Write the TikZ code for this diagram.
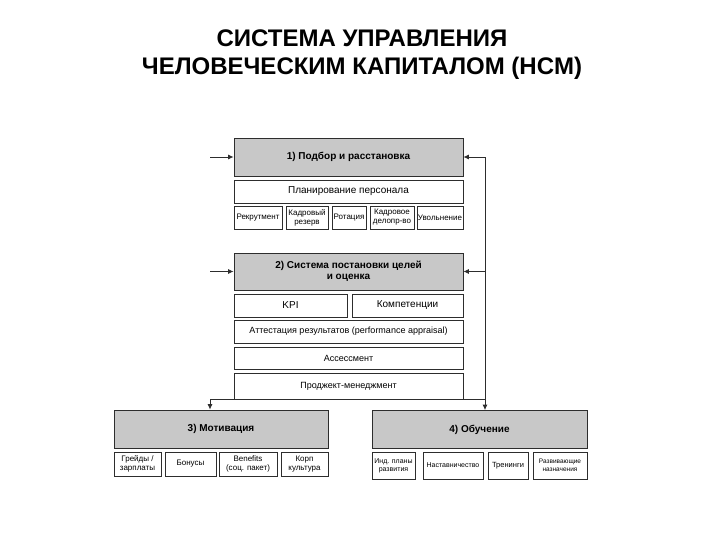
\documentclass[tikz,border=0pt]{standalone}
\usepackage{fontspec}
\setmainfont{Liberation Sans}
\usepackage{tikz}
\usetikzlibrary{
	arrows.meta,
	positioning
}
\definecolor{HeadGray}{RGB}{200, 200, 200}
\definecolor{EdgeGray}{RGB}{45, 45, 45}

\tikzset{
	wh/.style 2 args={minimum width=#1pt, minimum height=#2pt},
	head/.style={draw=EdgeGray, fill=HeadGray, line width=0.8pt, inner sep=0pt, align=center,
		font=\fontsize{10}{11.5}\selectfont\bfseries},
	cell/.style={draw=EdgeGray, fill=white, line width=0.8pt, inner sep=0pt, align=center,
		font=\fontsize{8}{9}\selectfont},
	bigcell/.style={cell, font=\fontsize{10}{11.5}\selectfont},
	conn/.style={draw=EdgeGray, line width=0.8pt},
	tip/.style={conn, -{Latex[length=5.5pt, width=5pt]}}
}

\begin{document}
\begin{tikzpicture}[x=1pt, y=-1pt]
		\useasboundingbox (0,0) rectangle (720,540);
		\node[font=\fontsize{24}{28}\selectfont\bfseries, align=center] (title) at (362,55)
		{СИСТЕМА УПРАВЛЕНИЯ\\ЧЕЛОВЕЧЕСКИМ КАПИТАЛОМ (HCM)};
		% 1) selection
		\node[head, wh={229}{38}] (sel) at (348.5,157) {1) Подбор и расстановка};
		\node[bigcell, wh={229}{23}] (plan) at (348.5,191.5) {Планирование персонала};
		\node[cell, wh={48}{23}] (rec) at (258,217.5) {Рекрутмент};
		\node[cell, wh={42}{23}] (rez) at (307,217.5) {Кадровый\\резерв};
		\node[cell, wh={34}{23}] (rot) at (349,217.5) {Ротация};
		\node[cell, wh={44}{23}] (del) at (392,217.5) {Кадровое\\делопр-во};
		\node[cell, wh={46}{23}] (uvol) at (440,217.5) {Увольнение};
		% 2) goals
		\node[head, wh={229}{37}] (goal) at (348.5,271.5) {2) Система постановки целей\\и оценка};
		\node[bigcell, wh={113}{23}] (kpi) at (290.5,305.5) {KPI};
		\node[bigcell, wh={111}{23}] (komp) at (407.5,305.5) {Компетенции};
		\node[cell, wh={229}{23}, font=\fontsize{9}{10}\selectfont] (att) at (348.5,331.5)
		{Аттестация результатов (performance appraisal)};
		\node[cell, wh={229}{22}, font=\fontsize{9}{10}\selectfont] (ass) at (348.5,358) {Ассессмент};
		\node[cell, wh={229}{26}, font=\fontsize{9}{10}\selectfont] (proj) at (348.5,386) {Проджект-менеджмент};
		% 3) motivation
		\node[head, wh={214}{38}] (mot) at (221,429) {3) Мотивация};
		\node[cell, wh={47}{24}] (grade) at (137.5,464) {Грейды /\\зарплаты};
		\node[cell, wh={51}{24}] (bonus) at (190.5,464) {Бонусы};
		\node[cell, wh={58}{24}] (benef) at (248,464) {Benefits\\(соц. пакет)};
		\node[cell, wh={47}{24}] (corp) at (304.5,464) {Корп\\культура};
		% 4) training
		\node[head, wh={215}{38}] (edu) at (479.5,429.5) {4) Обучение};
		\node[cell, wh={43}{27}, font=\fontsize{7}{8}\selectfont] (ind) at (393.5,465.5) {Инд. планы\\развития};
		\node[cell, wh={60}{27}, font=\fontsize{7}{8}\selectfont] (nast) at (453,465.5) {Наставничество};
		\node[cell, wh={40}{27}, font=\fontsize{7.5}{8.5}\selectfont] (tren) at (508,465.5) {Тренинги};
		\node[cell, wh={54}{27}, font=\fontsize{6.5}{7.5}\selectfont] (razv) at (560,465.5) {Развивающие\\назначения};
		% connectors
		\coordinate (inA) at (210,157);
		\coordinate (inB) at (210,271.5);
		\coordinate (busL) at (210,399);
		\coordinate (busR) at (485,399);
		\draw[tip] (inA) -- (sel.west);
		\draw[tip] (inB) -- (goal.west);
		\draw[conn] (busL) -- (busR);
		\draw[tip] (busR) |- (sel.east);
		\draw[tip] (busR) |- (goal.east);
		\draw[tip] (busL) -- (busL |- mot.north);
		\draw[tip] (busR) -- (busR |- edu.north);
	\end{tikzpicture}
\end{document}
